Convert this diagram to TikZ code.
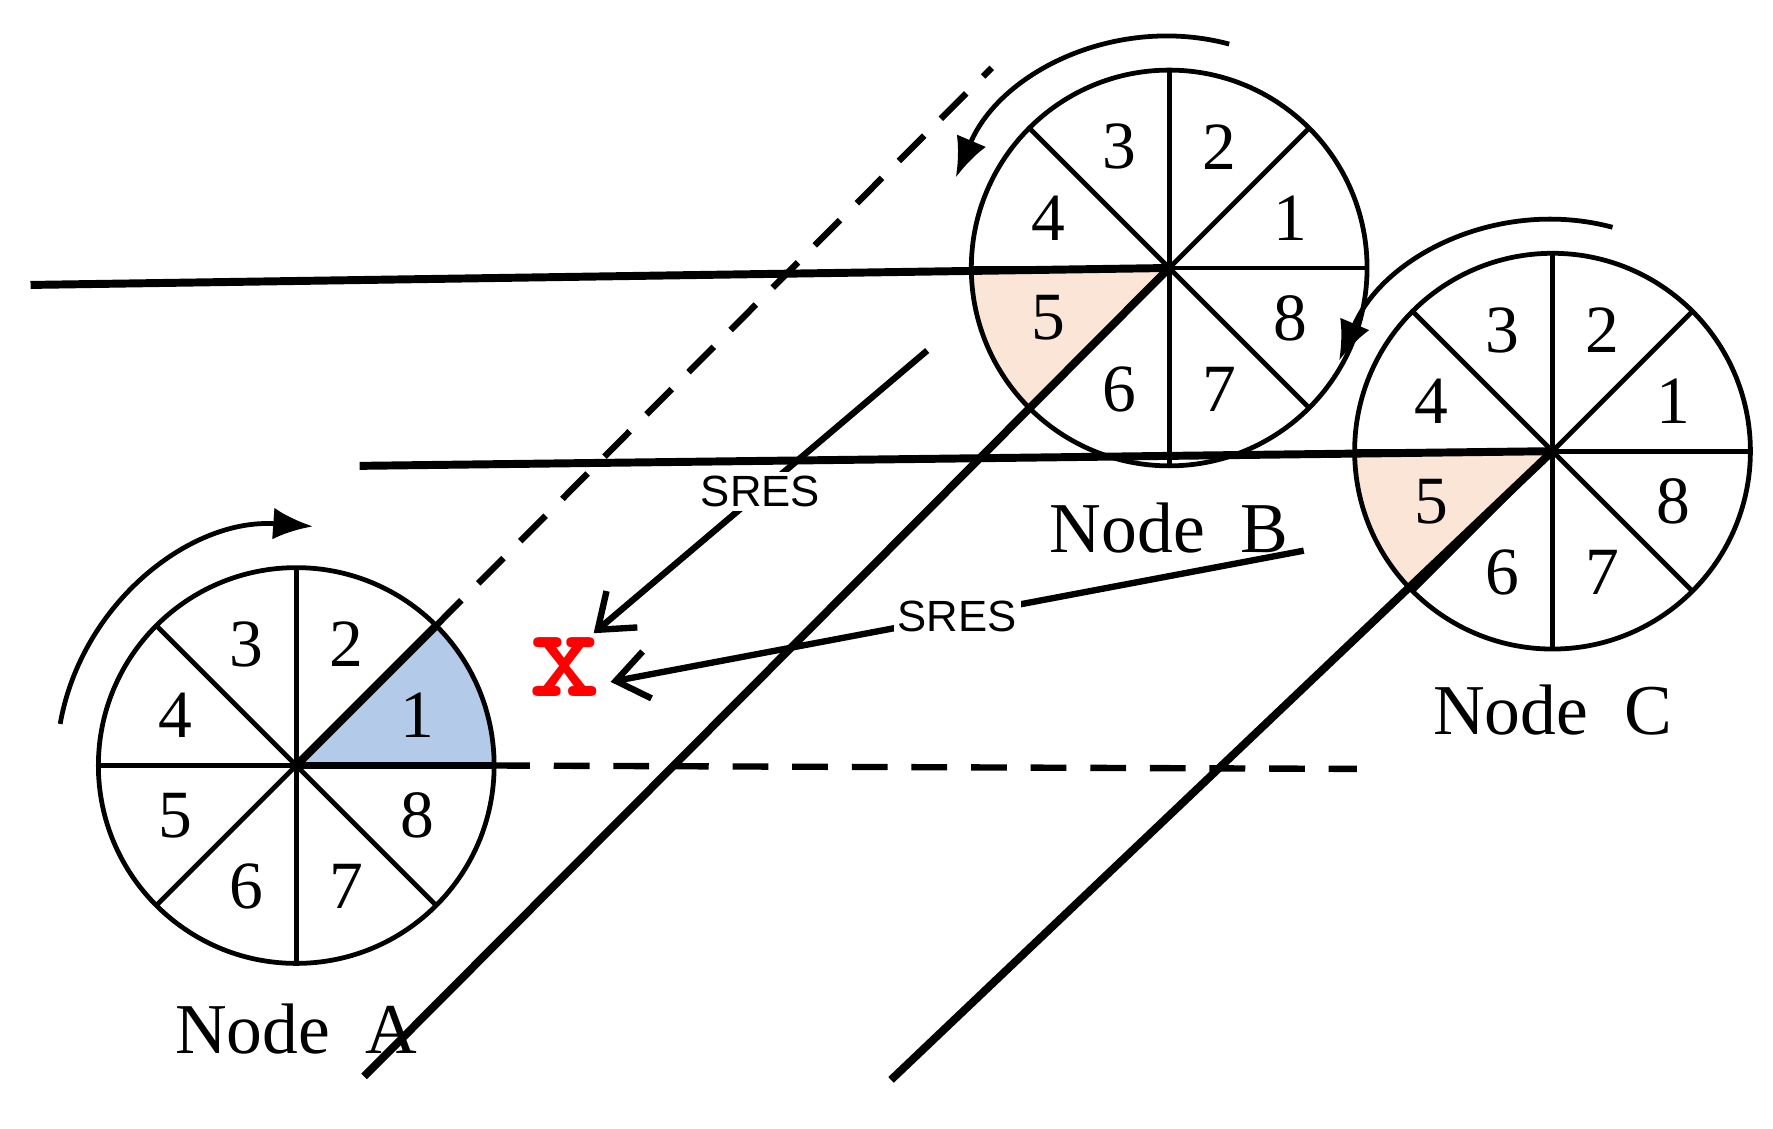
\documentclass[tikz,border=0pt]{standalone}
\usepackage{fontspec}
\setmainfont{Liberation Serif}
\newfontfamily\sresfont{Liberation Sans}
\usetikzlibrary{arrows.meta}
\definecolor{slotblue}{HTML}{B4CAE9}
\definecolor{slotpeach}{HTML}{FBE5D6}
\tikzset{
  wheel/.style={line width=1.2pt},
  track/.style={line width=2pt},
  dashtrack/.style={line width=1.6pt, dash pattern=on 9pt off 6pt},
  slot/.style={font=\fontsize{17}{17}\selectfont},
  caption/.style={font=\fontsize{18}{18}\selectfont},
  sres/.style={font=\sresfont\fontsize{11}{11}\selectfont, fill=white, inner sep=1pt},
  rot/.style={line width=1.2pt, -{Latex[length=10pt,width=8pt]}}
}
\begin{document}
\begin{tikzpicture}
\useasboundingbox (0,0) rectangle (15.68,9.98);
\coordinate (A) at (2.62,3.21);
\coordinate (B) at (10.34,7.61);
\coordinate (C) at (13.73,5.99);
% highlighted slots
\fill[slotblue] (A) -- ++(0:1.75) arc (0:45:1.75) -- cycle;
\fill[slotpeach] (B) -- ++(180:1.75) arc (180:225:1.75) -- cycle;
\fill[slotpeach] (C) -- ++(180:1.75) arc (180:225:1.75) -- cycle;
% wheels
\foreach \c in {A,B,C} {
  \draw[wheel] (\c) circle (1.75);
  \foreach \a in {0,45,...,315} {
    \draw[wheel] (\c) -- ++(\a:1.75);
  }
  \foreach \n in {1,...,8} {
    \node[slot] at ([shift={(\n*45-22.5:1.16)}]\c) {\n};
  }
}
\node[caption] (capA) at (2.62,0.88) {Node\ \ A};
\node[caption] (capB) at (10.34,5.31) {Node\ \ B};
\node[caption] (capC) at (13.73,3.70) {Node\ \ C};
% beams
\coordinate (b1) at (0.27,7.46);
\coordinate (b2) at (3.18,5.86);
\coordinate (b3) at (3.22,0.46);
\coordinate (b4) at (7.88,0.43);
\coordinate (d1) at (12.00,3.18);
\coordinate (d2) at (8.77,9.38);
\draw[track] (b1) -- (B);
\draw[track] (b2) -- (C);
\draw[track] (b3) -- (B);
\draw[track] (b4) -- (C);
\draw[track] (A) -- ++(0:1.75);
\draw[track] (A) -- ++(45:1.75);
\draw[dashtrack] ([shift={(0:1.75)}]A) -- (d1);
\draw[dashtrack] ([shift={(45:1.75)}]A) -- (d2);
% rotation
\draw[rot] ([shift={(170:2.12)}]A) arc (170:86:2.12);
\draw[rot] ([shift={(75:2.05)}]B) arc (75:157:2.05);
\draw[rot] ([shift={(75:2.05)}]C) arc (75:157:2.05);
% responses
\node[text=red, font=\sffamily\bfseries\fontsize{34}{34}\selectfont] (x) at (5.00,4.08) {\texttt{x}};
\coordinate (s1) at (8.20,6.88);
\coordinate (t1) at (5.25,4.38);
\coordinate (s2) at (11.53,5.11);
\coordinate (t2) at (5.40,3.95);
\draw[line width=1.6pt, -{Straight Barb[length=8pt,width=12pt]}] (s1) -- node[sres, pos=0.5] {SRES} (t1);
\draw[line width=1.6pt, -{Straight Barb[length=8pt,width=12pt]}] (s2) -- node[sres, pos=0.5] {SRES} (t2);
\end{tikzpicture}
\end{document}
